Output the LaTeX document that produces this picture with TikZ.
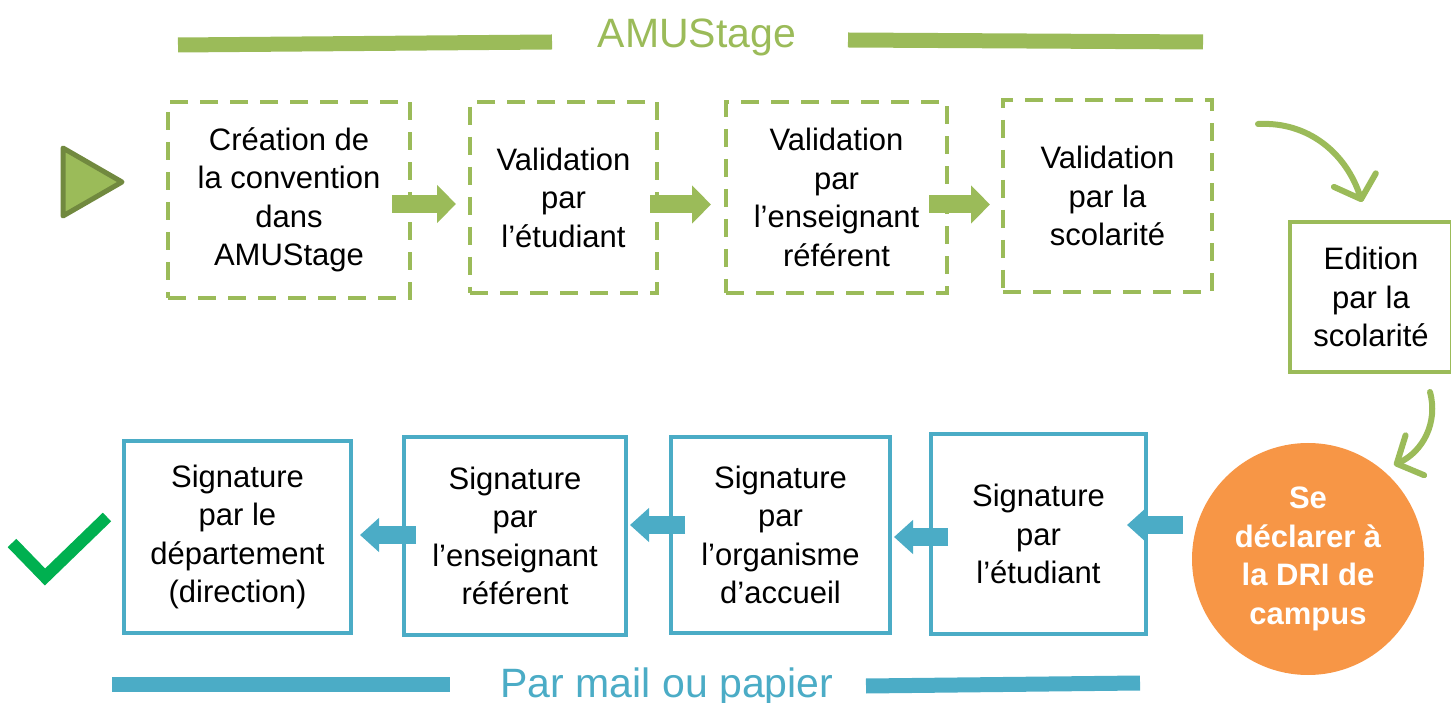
\documentclass[tikz,border=0pt]{standalone}
\usepackage{fontspec}
\setmainfont{Liberation Sans}
\usetikzlibrary{arrows.meta,positioning,calc}

\definecolor{amugreen}{HTML}{9BBB59}
\definecolor{darkgreen}{HTML}{71893F}
\definecolor{mailblue}{HTML}{4BACC6}
\definecolor{driorange}{HTML}{F79646}
\definecolor{okgreen}{HTML}{00B050}

\begin{document}
\begin{tikzpicture}[x=1pt,y=1pt,
  stagebox/.style={draw=amugreen, line width=4pt, dash pattern=on 18pt off 12pt, fill=white,
    align=center, inner sep=0pt, font=\fontsize{31}{38.5}\selectfont},
  signbox/.style={draw=mailblue, line width=4pt, fill=white,
    align=center, inner sep=0pt, font=\fontsize{31}{38.5}\selectfont},
  greenarrow/.style={amugreen, line width=18pt, -{Triangle[length=19pt,width=37pt]}},
  bluearrow/.style={mailblue, line width=18pt, -{Triangle[length=19pt,width=33pt]}},
  bentarrow/.style={amugreen, line width=6pt, line cap=round,
    -{Straight Barb[length=20pt,width=44pt,round]}}]
\useasboundingbox (0,0) rectangle (1451,702);

% titles
\draw[amugreen, line width=15pt] (178,657) -- (552,660);
\draw[amugreen, line width=15pt] (848,662) -- (1203,660);
\node[anchor=base, text=amugreen, font=\fontsize{41}{41}\selectfont, name=amu] at (697,654) {AMUStage};
\draw[mailblue, line width=15pt] (112,18) -- (450,18);
\draw[mailblue, line width=15pt] (866,16) -- (1140,19);
\node[anchor=base, text=mailblue, font=\fontsize{41}{41}\selectfont, name=mail] at (667,5) {Par mail ou papier};

% start and end marks
\draw[darkgreen, fill=amugreen, line width=5pt, line join=round] (63,554) -- (122,520) -- (63,486) -- cycle;
\draw[okgreen, line width=12pt] (12,159) -- (45,125) -- (107,185);

% AMUStage steps
\node[stagebox, minimum width=242pt, minimum height=196pt, name=creation] at (289,502)
  {Création de\\la convention\\dans\\AMUStage};
\node[stagebox, minimum width=187pt, minimum height=191pt, name=valetu] at (563.5,504.5)
  {Validation\\par\\l’étudiant};
\node[stagebox, minimum width=221pt, minimum height=191pt, name=valens] at (836.5,504.5)
  {Validation\\par\\l’enseignant\\référent};
\node[stagebox, minimum width=209pt, minimum height=192pt, name=valsco] at (1107.5,506)
  {Validation\\par la\\scolarité};
\node[stagebox, solid, minimum width=162pt, minimum height=150pt, name=edition] at (1371,405)
  {Edition\\par la\\scolarité};

% DRI
\node[circle, fill=driorange, minimum size=232pt, inner sep=0pt, align=center, text=white,
  font=\bfseries\fontsize{31}{38.5}\selectfont, name=dri] at (1308,143)
  {Se\\déclarer à\\la DRI de\\campus};

% signatures
\node[signbox, minimum width=215pt, minimum height=200pt, name=sigetu] at (1038.5,168)
  {Signature\\par\\l’étudiant};
\node[signbox, minimum width=219pt, minimum height=196pt, name=sigorg] at (780.5,167)
  {Signature\\par\\l’organisme\\d’accueil};
\node[signbox, minimum width=222pt, minimum height=198pt, name=sigens] at (515,166)
  {Signature\\par\\l’enseignant\\référent};
\node[signbox, minimum width=227pt, minimum height=192pt, name=sigdep] at (237.5,165)
  {Signature\\par le\\département\\(direction)};

% connections
\draw[greenarrow] ([xshift=-20pt,yshift=-4pt]creation.east) -- ([xshift=-12pt,yshift=-4pt]creation.east -| valetu.west);
\draw[greenarrow] ([xshift=-9pt,yshift=-7pt]valetu.east) -- ([xshift=-13pt,yshift=-7pt]valetu.east -| valens.west);
\draw[greenarrow] ([xshift=-20pt,yshift=-7pt]valens.east) -- ([xshift=-11pt,yshift=-7pt]valens.east -| valsco.west);

\coordinate (bendA) at (1258,578);
\coordinate (bendB) at (1362,500);
\draw[bentarrow] (bendA) to[out=3,in=108] (bendB);
\coordinate (bendC) at (1430,310);
\coordinate (bendD) at (1394,237);
\draw[bentarrow] (bendC) to[out=-75,in=25] (bendD);

\draw[bluearrow] ([xshift=-9pt,yshift=34pt]dri.west) -- ([xshift=-21pt,yshift=34pt]dri.west -| sigetu.east);
\draw[bluearrow] ([xshift=19pt,yshift=-3pt]sigetu.west) -- ([xshift=2pt,yshift=-3pt]sigetu.west -| sigorg.east);
\draw[bluearrow] ([xshift=16pt,yshift=10pt]sigorg.west) -- ([xshift=2pt,yshift=10pt]sigorg.west -| sigens.east);
\draw[bluearrow] ([xshift=14pt,yshift=1pt]sigens.west) -- ([xshift=7pt,yshift=1pt]sigens.west -| sigdep.east);

\end{tikzpicture}
\end{document}
